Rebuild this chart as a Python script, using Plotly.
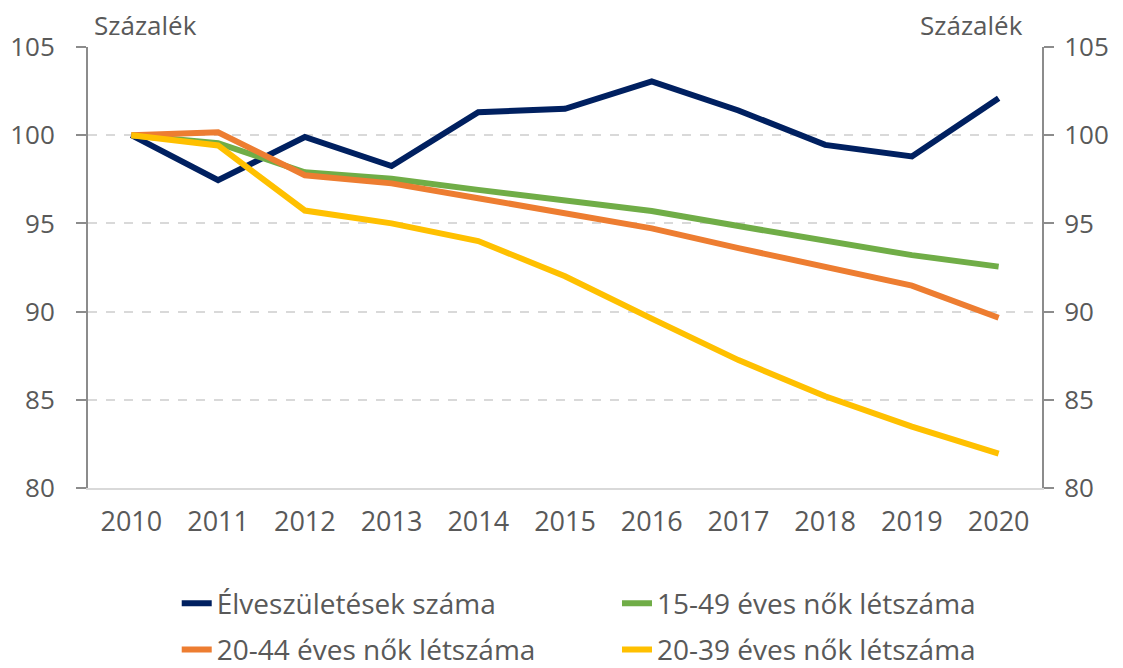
import plotly.graph_objects as go

years = ["2010", "2011", "2012", "2013", "2014", "2015", "2016", "2017", "2018", "2019", "2020"]
births = [100, 97.45, 99.9, 98.25, 101.3, 101.5, 103.05, 101.4, 99.45, 98.8, 102.1]
women_15_49 = [100, 99.55, 97.9, 97.53, 96.9, 96.28, 95.7, 94.85, 94.05, 93.2, 92.55]
women_20_44 = [100, 100.17, 97.73, 97.27, 96.43, 95.58, 94.72, 93.6, 92.5, 91.47, 89.65]
women_20_39 = [100, 99.42, 95.73, 95.0, 94.0, 92.0, 89.6, 87.25, 85.2, 83.48, 81.95]
names = ["Élveszületések száma", "15-49 éves nők létszáma", "20-44 éves nők létszáma", "20-39 éves nők létszáma"]
colors = ["#002060", "#70AD47", "#ED7D31", "#FFC000"]
y_ticks = [80, 85, 90, 95, 100, 105]
unit_label = "Százalék"

FONT = "Open Sans"
TXT = "#595959"

fig = go.Figure()
series = [births, women_15_49, women_20_44, women_20_39]
legend_ids = ["legend", "legend2", "legend3", "legend4"]
for name, vals, col, lg in zip(names, series, colors, legend_ids):
    fig.add_trace(go.Scatter(x=years, y=vals, name=name, mode="lines",
                             line=dict(color=col, width=6), legend=lg))
# invisible trace so the right axis is drawn
fig.add_trace(go.Scatter(x=years, y=births, yaxis="y2", mode="lines",
                         line=dict(width=0), opacity=0, showlegend=False, hoverinfo="skip"))

x_font = dict(family=FONT, size=27, color=TXT)
y_font = dict(family=FONT, size=26, color=TXT)
leg_font = dict(family=FONT, size=28, color=TXT)


def leg(x, y):
    return dict(orientation="h", x=x, xanchor="left", y=y, yanchor="middle",
                font=leg_font, bgcolor="rgba(0,0,0,0)")


fig.update_layout(
    width=1115, height=660,
    margin=dict(l=80, r=81, t=39, b=180, autoexpand=False),
    paper_bgcolor="white", plot_bgcolor="white",
    font=dict(family=FONT, color=TXT),
    xaxis=dict(type="category", range=[-0.5, 10.5], showgrid=False, showline=True,
               linecolor="#D9D9D9", linewidth=2, ticks="", tickfont=x_font,
               ticklabelstandoff=9, zeroline=False),
    yaxis=dict(range=[80, 105], tickvals=y_ticks, showgrid=True, gridcolor="#D9D9D9",
               griddash="dash", gridwidth=1.5, showline=True, linecolor="#8C8C8C", linewidth=2,
               ticks="outside", ticklen=10, tickcolor="#8C8C8C", tickwidth=2,
               tickfont=y_font, ticklabelstandoff=16, zeroline=False),
    yaxis2=dict(range=[80, 105], tickvals=y_ticks, overlaying="y", side="right",
                showgrid=False, showline=True, linecolor="#8C8C8C", linewidth=2,
                ticks="outside", ticklen=10, tickcolor="#8C8C8C", tickwidth=2,
                tickfont=y_font, ticklabelstandoff=5, zeroline=False),
    legend=leg(0.093, -0.262),
    legend2=leg(0.5545, -0.262),
    legend3=leg(0.093, -0.367),
    legend4=leg(0.5545, -0.367),
    showlegend=True,
    annotations=[
        dict(text=unit_label, xref="paper", yref="paper", x=0, y=1, xanchor="left",
             yanchor="bottom", xshift=4, yshift=2, showarrow=False,
             font=dict(family=FONT, size=26, color=TXT)),
        dict(text=unit_label, xref="paper", yref="paper", x=1, y=1, xanchor="right",
             yanchor="bottom", xshift=-17, yshift=2, showarrow=False,
             font=dict(family=FONT, size=26, color=TXT)),
    ],
)

fig.write_html("out.html")
